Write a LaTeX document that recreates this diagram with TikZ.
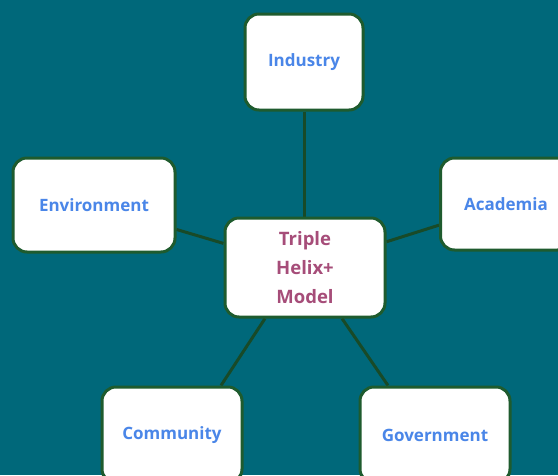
\documentclass[tikz,border=0pt]{standalone}
\usepackage{fontspec}
\setmainfont{Open Sans}
\usetikzlibrary{backgrounds}
\definecolor{bg}{HTML}{00687A}
\definecolor{edge}{HTML}{1E5B2E}
\definecolor{conn}{HTML}{184A28}
\definecolor{leaf}{HTML}{4A86E8}
\definecolor{hub}{HTML}{A64D79}
\tikzset{
  box/.style={draw=edge, fill=white, line width=3pt, rounded corners=14pt,
    inner sep=0pt, align=center, font=\fontsize{17}{29}\selectfont\bfseries},
  leafbox/.style={box, text=leaf},
  hubbox/.style={box, text=hub, font=\fontsize{18.5}{29}\selectfont\bfseries},
  link/.style={draw=conn, line width=3pt}
}
\begin{document}
\begin{tikzpicture}[x=1pt,y=-1pt]
\useasboundingbox (0,0) rectangle (558,475);
\node[leafbox, minimum width=118pt, minimum height=96pt] (ind) at (304,62) {Industry};
\node[leafbox, minimum width=162pt, minimum height=94pt] (env) at (94,205) {Environment};
\node[leafbox, minimum width=131pt, minimum height=92pt] (aca) at (506,204) {Academia};
\node[hubbox, minimum width=160pt, minimum height=99pt] (ctr) at (305,267.5) {Triple\\Helix+\\Model};
\node[leafbox, minimum width=140pt, minimum height=96pt] (com) at (172,435) {Community};
\node[leafbox, minimum width=150pt, minimum height=96pt] (gov) at (435,435) {Government};
\begin{scope}[on background layer]
\fill[bg] (0,0) rectangle (558,475);
\draw[link] (ind.south) -- (ctr.north -| ind.south);
\draw[link] (env) -- (ctr);
\draw[link] (aca) -- (ctr);
\draw[link] ([xshift=-40pt]ctr.south) -- ([xshift=49pt]com.north);
\draw[link] ([xshift=37pt]ctr.south) -- ([xshift=-47pt]gov.north);
\end{scope}
\end{tikzpicture}
\end{document}
